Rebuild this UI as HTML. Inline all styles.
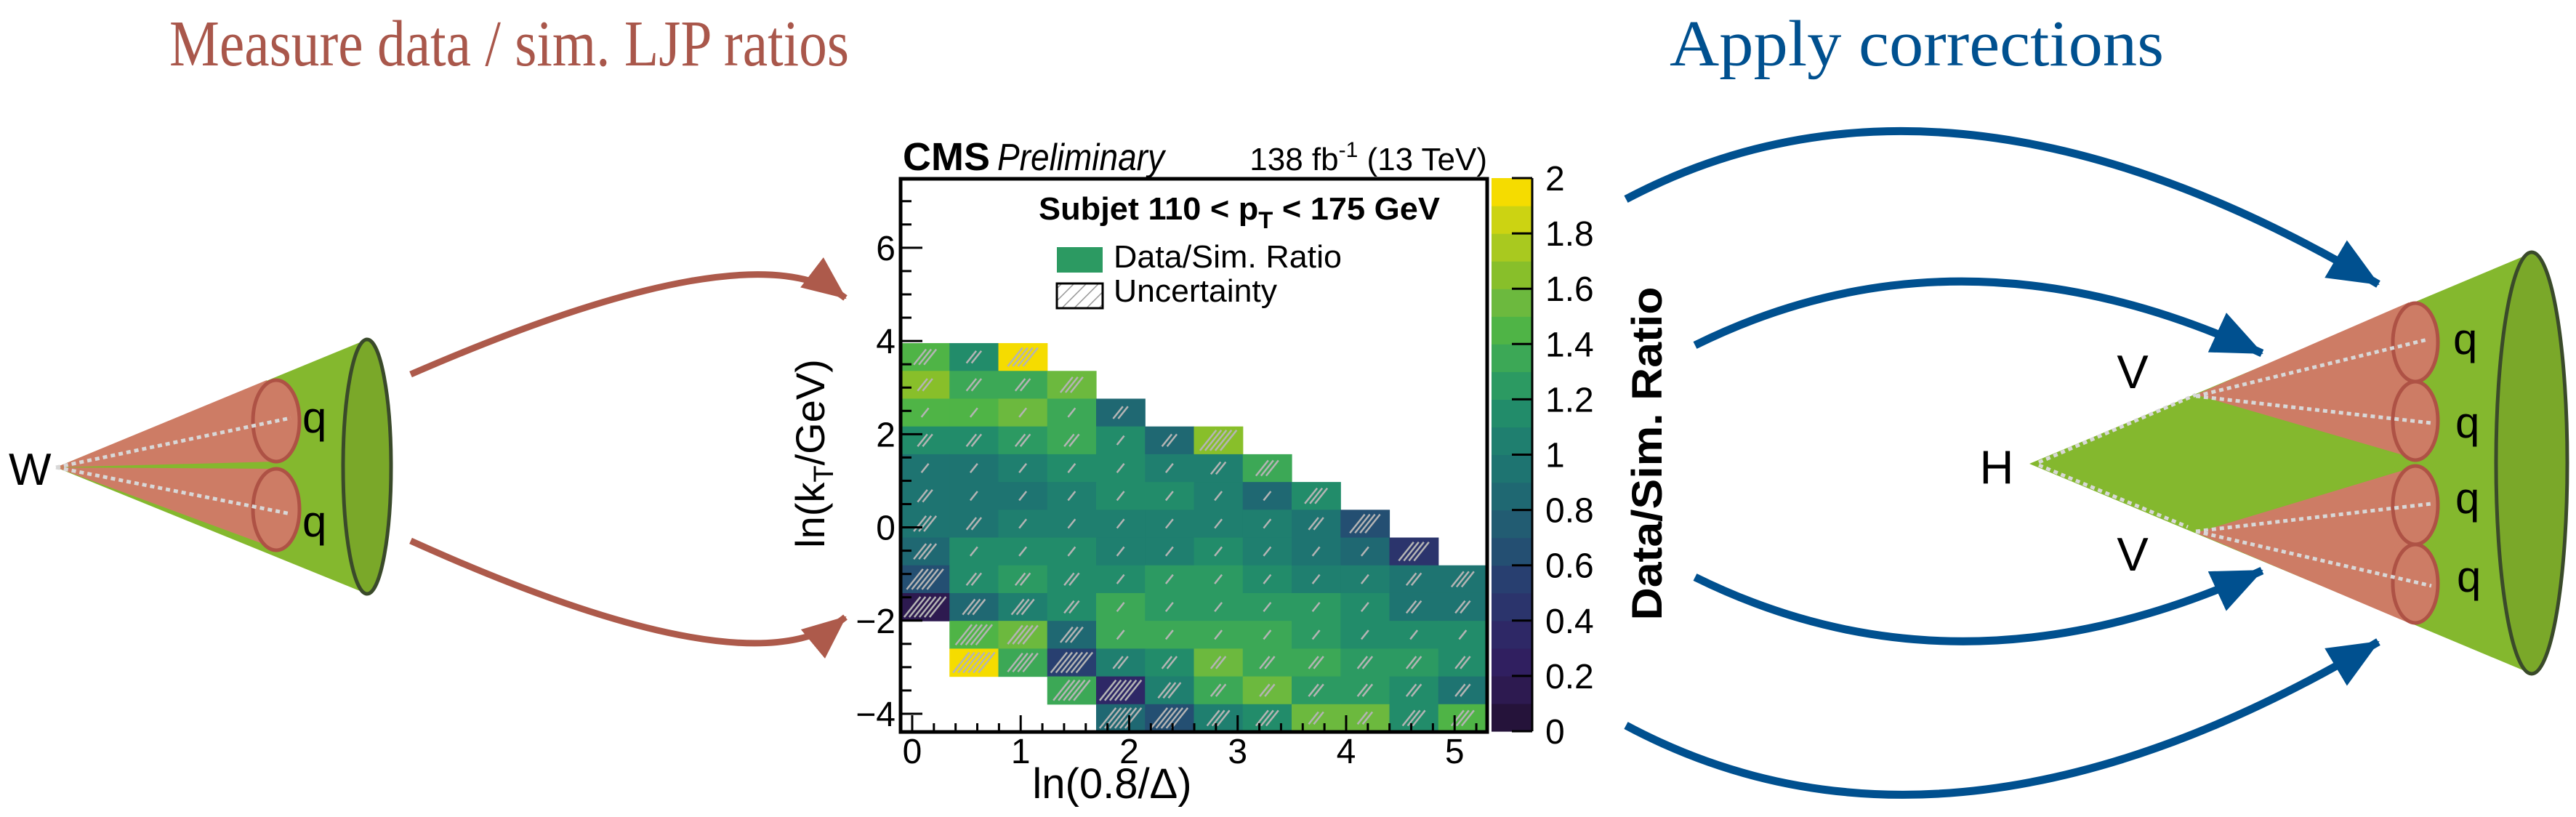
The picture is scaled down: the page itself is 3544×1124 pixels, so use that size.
<!DOCTYPE html>
<html><head><meta charset="utf-8"><style>
html,body{margin:0;padding:0;background:#fff;}
svg{display:block;font-family:"Liberation Sans",sans-serif;}
</style></head><body>
<svg id="root" width="3544" height="1124" viewBox="0 0 3544 1124" xmlns="http://www.w3.org/2000/svg">
<defs>
<marker id="headRed" markerUnits="userSpaceOnUse" markerWidth="70" markerHeight="60" refX="58" refY="26" orient="auto"><path d="M0,0 L60,26 L0,52 Z" fill="#ad5a4b"/></marker>
<marker id="headBlue" markerUnits="userSpaceOnUse" markerWidth="80" markerHeight="70" refX="68" refY="30" orient="auto"><path d="M0,0 L70,30 L0,60 Z" fill="#00508f"/></marker>
<pattern id="hatchLeg" width="12" height="12" patternUnits="userSpaceOnUse" patternTransform="rotate(45)"><line x1="0" y1="0" x2="0" y2="12" stroke="#999" stroke-width="3"/></pattern>
</defs>

<text x="233" y="90" font-family="Liberation Serif, serif" font-size="90" fill="#a9574b" textLength="935" lengthAdjust="spacingAndGlyphs">Measure data / sim. LJP ratios</text>
<text x="2297" y="90" font-family="Liberation Serif, serif" font-size="90" fill="#00508f" textLength="680" lengthAdjust="spacingAndGlyphs">Apply corrections</text>

<g>
<polygon points="77,643 505,467 505,817" fill="#84b82e"/>
<polygon points="77,643 367,523 380,635" fill="#cd7c65"/>
<polygon points="77,643 383,756 380,645" fill="#cd7c65"/>
<ellipse cx="380" cy="579" rx="32" ry="56" fill="#cd7c65" stroke="#ae5245" stroke-width="5"/>
<ellipse cx="380" cy="701" rx="32" ry="56" fill="#cd7c65" stroke="#ae5245" stroke-width="5"/>
<line x1="77" y1="643" x2="400" y2="575" stroke="#d8d8d8" stroke-width="5" stroke-dasharray="6 5"/>
<line x1="77" y1="643" x2="400" y2="707" stroke="#d8d8d8" stroke-width="5" stroke-dasharray="6 5"/>
<ellipse cx="505" cy="642" rx="33" ry="175" fill="#7aa829" stroke="#3a4a2a" stroke-width="5"/>
</g>
<text x="12" y="667" font-size="62">W</text>
<text x="416" y="595" font-size="60">q</text>
<text x="416" y="738" font-size="60">q</text>

<path d="M565,515 Q1034,311 1163,410" fill="none" stroke="#ad5a4b" stroke-width="9" marker-end="url(#headRed)"/>
<path d="M565,744 Q1034,956 1163,849" fill="none" stroke="#ad5a4b" stroke-width="9" marker-end="url(#headRed)"/>

<g>
<polygon points="2792,638 3483,348 3483,927" fill="#84b82e"/>
<polygon points="3021,543 3314,416 3323,631" fill="#cd7c65"/>
<polygon points="3021,733 3323,642 3314,857" fill="#cd7c65"/>
<ellipse cx="3323" cy="471" rx="31" ry="54" fill="#cd7c65" stroke="#ae5245" stroke-width="5"/>
<ellipse cx="3323" cy="579" rx="31" ry="54" fill="#cd7c65" stroke="#ae5245" stroke-width="5"/>
<ellipse cx="3323" cy="695" rx="31" ry="54" fill="#cd7c65" stroke="#ae5245" stroke-width="5"/>
<ellipse cx="3323" cy="803" rx="31" ry="54" fill="#cd7c65" stroke="#ae5245" stroke-width="5"/>
<g stroke="#d8d8d8" stroke-width="5" stroke-dasharray="6 5">
<line x1="2805" y1="636" x2="3021" y2="543"/><line x1="2805" y1="640" x2="3010" y2="725"/>
<line x1="3021" y1="545" x2="3340" y2="467"/><line x1="3021" y1="545" x2="3345" y2="582"/>
<line x1="3021" y1="731" x2="3345" y2="693"/><line x1="3021" y1="731" x2="3345" y2="806"/>
</g>
<ellipse cx="3483" cy="637" rx="49" ry="290" fill="#7aa829" stroke="#3a4a2a" stroke-width="5"/>
</g>
<text x="2747" y="665" font-size="65" text-anchor="middle">H</text>
<text x="2934" y="534" font-size="65" text-anchor="middle">V</text>
<text x="2934" y="785" font-size="65" text-anchor="middle">V</text>
<text x="3375" y="487" font-size="60">q</text>
<text x="3378" y="602" font-size="60">q</text>
<text x="3378" y="706" font-size="60">q</text>
<text x="3380" y="814" font-size="60">q</text>

<path d="M2237,274 Q2680,40 3272,391" fill="none" stroke="#00508f" stroke-width="11" marker-end="url(#headBlue)"/>
<path d="M2332,475 Q2698,294 3112,486" fill="none" stroke="#00508f" stroke-width="11" marker-end="url(#headBlue)"/>
<path d="M2332,794 Q2698,975 3112,785" fill="none" stroke="#00508f" stroke-width="11" marker-end="url(#headBlue)"/>
<path d="M2237,998 Q2680,1235 3272,883" fill="none" stroke="#00508f" stroke-width="11" marker-end="url(#headBlue)"/>

<g id="chart">
<g id="cells"></g>
<g id="ticks"></g>
<rect x="1239" y="246" width="807" height="761" fill="none" stroke="#000" stroke-width="5"/>
<g id="cbar"></g>
<text x="1242" y="234" font-size="54" font-weight="bold" textLength="120" lengthAdjust="spacingAndGlyphs">CMS</text>
<text x="1372" y="234" font-size="52" font-style="italic" textLength="230" lengthAdjust="spacingAndGlyphs">Preliminary</text>
<text x="2046" y="234" font-size="44" text-anchor="end">138 fb<tspan dy="-18" font-size="30">-1</tspan><tspan dy="18"> (13 TeV)</tspan></text>
<text x="1429" y="302" font-size="44" font-weight="bold" textLength="552" lengthAdjust="spacingAndGlyphs">Subjet 110 &lt; p<tspan dy="12" font-size="32">T</tspan><tspan dy="-12"> &lt; 175 GeV</tspan></text>
<rect x="1454" y="340" width="63" height="35" fill="#2c9a62"/>
<text x="1532" y="368" font-size="44" textLength="314" lengthAdjust="spacingAndGlyphs">Data/Sim. Ratio</text>
<rect x="1454" y="390" width="63" height="34" fill="url(#hatchLeg)" stroke="#000" stroke-width="3"/>
<text x="1532" y="415" font-size="44" textLength="225" lengthAdjust="spacingAndGlyphs">Uncertainty</text>
<text transform="translate(1134,624) rotate(-90)" font-size="56" text-anchor="middle">ln(k<tspan dy="12" font-size="38">T</tspan><tspan dy="-12">/GeV)</tspan></text>
<text x="1530" y="1098" font-size="58" text-anchor="middle">ln(0.8/Δ)</text>
<text transform="translate(2286,624) rotate(-90)" font-size="58" font-weight="bold" text-anchor="middle" textLength="459" lengthAdjust="spacingAndGlyphs">Data/Sim. Ratio</text>
</g>
</svg>
<script>
const ratioRows = [
 [1.4,1.15,2.0,null,null,null,null,null,null,null,null,null],
 [1.6,1.35,1.35,1.5,null,null,null,null,null,null,null,null],
 [1.4,1.4,1.5,1.3,0.85,null,null,null,null,null,null,null],
 [1.1,1.1,1.2,1.3,1.15,0.85,1.6,null,null,null,null,null],
 [0.95,0.95,1.05,1.1,1.1,1.0,1.0,1.35,null,null,null,null],
 [0.95,0.95,0.9,1.0,1.15,1.15,1.0,0.85,1.1,null,null,null],
 [0.9,0.9,1.05,1.05,1.05,1.05,1.05,1.0,0.9,0.6,null,null],
 [0.85,1.1,1.1,1.15,1.05,1.05,1.15,1.05,0.95,0.8,0.45,null],
 [0.6,1.1,1.25,1.15,1.1,1.2,1.2,1.1,1.0,1.0,0.95,0.95],
 [0.1,0.8,1.05,1.1,1.3,1.2,1.2,1.2,1.2,1.15,0.9,0.9],
 [null,1.45,1.5,0.8,1.3,1.3,1.3,1.3,1.2,1.15,1.15,1.1],
 [null,2.0,1.3,0.5,1.05,1.1,1.55,1.3,1.3,1.2,1.2,1.15],
 [null,null,null,1.3,0.3,1.05,1.3,1.5,1.2,1.2,1.1,0.9],
 [null,null,null,null,0.85,0.6,1.0,1.15,1.5,1.5,1.15,1.45]
];
const uncRows = [
 [3,2,4],[2,2,2,3],[1,1,1,1,2],[2,2,2,2,1,2,5],[1,1,1,1,1,1,2,3],
 [2,1,1,1,1,1,1,1,3],[3,2,1,1,1,1,1,1,2,4],[3,1,1,1,1,1,1,1,1,1,4],
 [5,2,2,2,1,1,1,1,1,1,2,3],[6,3,3,2,1,1,1,1,1,1,2,2],
 [0,5,4,3,1,1,1,1,1,1,1,1],[0,6,4,6,2,2,2,2,2,2,2,2],
 [0,0,0,5,6,3,2,2,2,2,2,2],[0,0,0,0,6,5,3,3,2,2,3,3]
];
const xTickLabels = ["0","1","2","3","4","5"];
const yTickLabels = ["−4","−2","0","2","4","6"];
const cbTickLabels = ["0","0.2","0.4","0.6","0.8","1","1.2","1.4","1.6","1.8","2"];
const palette = ["#25133a","#2d1a50","#301f60","#2e2866","#2b346c","#283f70","#244f72","#225c72","#1f6872","#1e7471","#1f7f6f","#228c6a","#2c9a62","#3ca856","#4fb446","#6cb93e","#88bf2a","#a9c91f","#ccd312","#f5dc00"];

const NS = "http://www.w3.org/2000/svg";
const X0 = 1239, X1 = 2046, Y0 = 246, Y1 = 1007;
const xMin = -0.107, xMax = 5.30, yMin = -4.39, yMax = 7.48;
const binW = (xMax - xMin) / 12, binH = 0.596, yTopData = yMin + 14 * binH;
const sx = v => X0 + (v - xMin) / (xMax - xMin) * (X1 - X0);
const sy = v => Y1 - (v - yMin) / (yMax - yMin) * (Y1 - Y0);
const cMin = 0, cMax = 2;
const colorOf = v => palette[Math.max(0, Math.min(19, Math.floor((v - cMin) / (cMax - cMin) * 20)))];
function mk(tag, attrs, parent) {
  const e = document.createElementNS(NS, tag);
  for (const k in attrs) e.setAttribute(k, attrs[k]);
  parent.appendChild(e); return e;
}
const cells = document.getElementById('cells');
ratioRows.forEach((row, r) => {
  row.forEach((v, c) => {
    if (v === null) return;
    const xa = sx(xMin + c * binW), xb = sx(xMin + (c + 1) * binW);
    const ya = sy(yTopData - r * binH), yb = sy(yTopData - (r + 1) * binH);
    const rect = mk('rect', {x: xa, y: ya, width: xb - xa + 0.6, height: yb - ya + 0.6, fill: colorOf(v)}, cells);
    
    
    const n = (uncRows[r] && uncRows[r][c]) || 0;
    const cx = (xa + xb) / 2, cy = (ya + yb) / 2;
    for (let i = 0; i < n; i++) {
      const off = (i - (n - 1) / 2) * 7;
      const half = Math.min(4 + n * 2.2, 14);
      const ln = mk('line', {x1: cx + off - half * 0.8, y1: cy + half, x2: cx + off + half * 0.8, y2: cy - half, stroke: '#b4b4b4', 'stroke-width': 2.5}, cells);
      
      
    }
  });
});
const ticks = document.getElementById('ticks');
for (let i = 0; i <= 26; i++) {
  const v = i * 0.2; if (v > xMax) break;
  const major = i % 5 === 0, x = sx(v);
  const t = mk('line', {x1: x, y1: Y1, x2: x, y2: Y1 - (major ? 23 : 12), stroke: '#000', 'stroke-width': 3}, ticks);
  
  
}
xTickLabels.forEach((lab, i) => {
  const t = mk('text', {x: sx(i), y: 1050, 'font-size': 48, 'text-anchor': 'middle'}, ticks);
  t.textContent = lab;
  
  
});
for (let v = -4; v <= 7.01; v += 0.5) {
  const major = Math.abs(v % 2) < 1e-6, y = sy(v);
  const t = mk('line', {x1: X0, y1: y, x2: X0 + (major ? 30 : 15), y2: y, stroke: '#000', 'stroke-width': 3}, ticks);
  
  
}
yTickLabels.forEach((lab, i) => {
  const t = mk('text', {x: 1232, y: sy(-4 + 2 * i) + 17, 'font-size': 48, 'text-anchor': 'end'}, ticks);
  t.textContent = lab;
  
  
});
const cbar = document.getElementById('cbar');
const CB0 = 2052, CB1 = 2108, CBT = 245, CBB = 1006;
const cy_ = v => CBB - (v - cMin) / (cMax - cMin) * (CBB - CBT);
palette.forEach((col, i) => {
  const lo = cMin + i * 0.1, hi = lo + 0.1;
  const r = mk('rect', {x: CB0, y: cy_(hi), width: CB1 - CB0, height: cy_(lo) - cy_(hi) + 0.6, fill: col}, cbar);
  
  
});
mk('line', {x1: CB1, y1: CBT, x2: CB1, y2: CBB, stroke: '#000', 'stroke-width': 3}, cbar);
cbTickLabels.forEach((lab, i) => {
  const v = i * 0.2, y = cy_(v);
  const t = mk('line', {x1: CB1 - 28, y1: y, x2: CB1, y2: y, stroke: '#000', 'stroke-width': 3}, cbar);
  
  
  const tx = mk('text', {x: 2126, y: y + 17, 'font-size': 48}, cbar);
  tx.textContent = lab;
  
  
});
</script>
</body></html>
